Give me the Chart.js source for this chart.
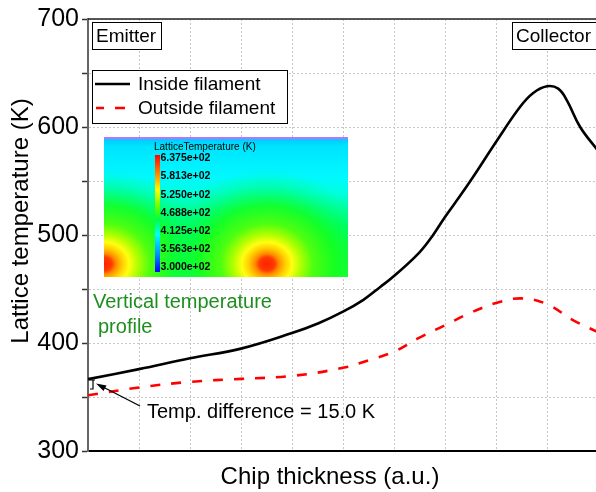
<!DOCTYPE html>
<html>
<head>
<meta charset="utf-8">
<script src="https://cdn.jsdelivr.net/npm/chart.js@4"></script>
<style>
  html, body { margin: 0; padding: 0; background: #fff; overflow: hidden; }
  #wrap { width: 596px; height: 492px; overflow: hidden; }
</style>
</head>
<body>
<div id="wrap"><canvas id="tempChart" width="600" height="492"></canvas></div>
<script>
const FONT = '"Liberation Sans", Arial, sans-serif';

// chip thickness (a.u., one grid step = 1) vs lattice temperature (K)
const insideX = [0, 1, 2, 3, 4, 4.52, 5, 5.4, 5.73, 6, 6.5, 6.77, 7, 7.29, 7.55, 8, 8.47, 8.73, 9, 9.22, 9.39, 9.65, 10];
const insideT = [366.5, 375.8, 385.8, 394.8, 409.2, 418.3, 429, 440, 451.9, 462, 484, 500.3, 516.7, 535.8, 553.7, 586.1, 618.5, 631.5, 637.7, 635.5, 624.7, 600, 578];
const outsideX = [0, 1, 2, 3, 4, 5, 5.5, 6, 6.5, 7, 7.5, 8, 8.5, 9, 9.5, 10];
const outsideT = [351.6, 358.8, 364, 366.8, 369.5, 377, 384, 392, 405, 416.4, 428, 437, 441.3, 436, 421.5, 410];
const yTickValues = [300, 350, 400, 450, 500, 550, 600, 650, 700];
const colorbarLabels = ['6.375e+02', '5.813e+02', '5.250e+02', '4.688e+02', '4.125e+02', '3.563e+02', '3.000e+02'];

const toPoints = (xs, ys) => xs.map((x, i) => ({ x: x, y: ys[i] }));

// inset, legend, labels and annotation
const decorations = {
    id: 'decorations',
    beforeDatasetsDraw(chart) {
        const ctx = chart.ctx;
        // contour-plot inset
        const L = 104, T = 137, W = 244, H = 140;
        ctx.save();
        ctx.beginPath();
        ctx.rect(L, T, W, H);
        ctx.clip();
        const base = ctx.createLinearGradient(0, T, 0, T + H);
        base.addColorStop(0, '#00c4ff');
        base.addColorStop(0.07, '#00e4ff');
        base.addColorStop(0.28, '#00f8ff');
        base.addColorStop(0.4, '#00ffe0');
        base.addColorStop(0.52, '#00ffa0');
        base.addColorStop(0.65, '#00ff60');
        base.addColorStop(0.8, '#14ff36');
        base.addColorStop(1, '#24ff24');
        ctx.fillStyle = base;
        ctx.fillRect(L, T, W, H);
        [[104, 264], [267, 264]].forEach(([cx, cy]) => {
            ctx.save();
            ctx.translate(cx, cy);
            ctx.scale(1.15, 1);
            const g = ctx.createRadialGradient(0, 0, 0, 0, 0, 95);
            g.addColorStop(0, '#ff2000');
            g.addColorStop(0.07, '#ff3a00');
            g.addColorStop(0.11, '#ff8c00');
            g.addColorStop(0.17, '#ffd000');
            g.addColorStop(0.23, '#ffff10');
            g.addColorStop(0.31, '#b0ff00');
            g.addColorStop(0.42, '#50ff10');
            g.addColorStop(0.62, 'rgba(20,255,30,0.85)');
            g.addColorStop(0.82, 'rgba(0,255,80,0.35)');
            g.addColorStop(1, 'rgba(0,255,140,0)');
            ctx.fillStyle = g;
            ctx.beginPath();
            ctx.arc(0, 0, 95, 0, Math.PI * 2);
            ctx.fill();
            ctx.restore();
        });
        ctx.fillStyle = '#c070ff';
        ctx.fillRect(L, T, W, 2);
        // colour bar
        const cb = ctx.createLinearGradient(0, 155, 0, 272);
        cb.addColorStop(0, '#ff0000');
        cb.addColorStop(0.15, '#ff8000');
        cb.addColorStop(0.3, '#ffff00');
        cb.addColorStop(0.45, '#60ff00');
        cb.addColorStop(0.55, '#00ff40');
        cb.addColorStop(0.68, '#00ffff');
        cb.addColorStop(0.85, '#0090ff');
        cb.addColorStop(1, '#0000ff');
        ctx.fillStyle = cb;
        ctx.fillRect(155, 155, 5, 117);
        ctx.fillStyle = '#000';
        ctx.textBaseline = 'middle';
        ctx.textAlign = 'left';
        ctx.font = '10px ' + FONT;
        ctx.fillText('LatticeTemperature (K)', 154, 147);
        ctx.font = 'bold 10.5px ' + FONT;
        colorbarLabels.forEach((s, i) => ctx.fillText(s, 160.5, 158.5 + i * 18.1));
        ctx.restore();
    },
    afterDraw(chart) {
        const ctx = chart.ctx;
        const area = chart.chartArea;
        ctx.save();
        // top frame line
        ctx.strokeStyle = '#222';
        ctx.lineWidth = 1.5;
        ctx.beginPath();
        ctx.moveTo(area.left, area.top);
        ctx.lineTo(area.right + 2, area.top);
        ctx.stroke();

        ctx.lineWidth = 1;
        ctx.strokeStyle = '#000';
        ctx.fillStyle = '#000';
        ctx.textAlign = 'left';
        ctx.textBaseline = 'middle';

        // Emitter / Collector boxes
        ctx.font = '19px ' + FONT;
        [['Emitter', 92.5, 69], ['Collector', 512.5, 100]].forEach(([s, x, w]) => {
            ctx.fillStyle = '#fff';
            ctx.fillRect(x, 22.5, w, 27);
            ctx.strokeRect(x, 22.5, w, 27);
            ctx.fillStyle = '#000';
            ctx.fillText(s, x + 3.5, 36.5);
        });

        // legend
        ctx.fillStyle = '#fff';
        ctx.fillRect(92.5, 70.5, 195, 53);
        ctx.strokeRect(92.5, 70.5, 195, 53);
        ctx.lineWidth = 2.5;
        ctx.strokeStyle = '#000';
        ctx.beginPath();
        ctx.moveTo(95, 84);
        ctx.lineTo(130, 84);
        ctx.stroke();
        ctx.strokeStyle = '#ff0000';
        ctx.beginPath();
        ctx.moveTo(96, 108);
        ctx.lineTo(104, 108);
        ctx.moveTo(115, 108);
        ctx.lineTo(125, 108);
        ctx.stroke();
        ctx.fillStyle = '#000';
        ctx.fillText('Inside filament', 138, 85);
        ctx.fillText('Outside filament', 138, 109);

        // green note
        ctx.textBaseline = 'alphabetic';
        ctx.font = '20px ' + FONT;
        ctx.fillStyle = '#1e8f1e';
        ctx.fillText('Vertical temperature', 93, 308);
        ctx.fillText('profile', 98, 333);

        // temperature difference annotation
        ctx.fillStyle = '#000';
        ctx.fillText('Temp. difference = 15.0 K', 147, 418);
        ctx.lineWidth = 1.3;
        ctx.strokeStyle = '#000';
        ctx.beginPath();
        ctx.moveTo(140, 406);
        ctx.lineTo(103, 387);
        ctx.stroke();
        ctx.beginPath();
        ctx.moveTo(96, 383.5);
        ctx.lineTo(106.5, 385.5);
        ctx.lineTo(103.5, 391);
        ctx.closePath();
        ctx.fill();
        ctx.lineWidth = 1.2;
        ctx.beginPath();
        ctx.moveTo(89, 380);
        ctx.lineTo(95, 380);
        ctx.moveTo(93, 380);
        ctx.lineTo(93, 389);
        ctx.lineTo(90, 389);
        ctx.stroke();

        // axis titles
        ctx.font = '24px ' + FONT;
        ctx.textAlign = 'center';
        ctx.fillText('Chip thickness (a.u.)', 330, 484);
        ctx.translate(28, 221);
        ctx.rotate(-Math.PI / 2);
        ctx.fillText('Lattice temperature (K)', 0, 0);
        ctx.restore();
    }
};

new Chart(document.getElementById('tempChart').getContext('2d'), {
    type: 'line',
    data: {
        datasets: [
            {
                label: 'Inside filament',
                data: toPoints(insideX, insideT),
                borderColor: '#000',
                borderWidth: 2.6,
                pointRadius: 0,
                tension: 0.4
            },
            {
                label: 'Outside filament',
                data: toPoints(outsideX, outsideT),
                borderColor: '#ff0000',
                borderWidth: 2.6,
                borderDash: [10, 11],
                pointRadius: 0,
                tension: 0.4
            }
        ]
    },
    options: {
        responsive: false,
        animation: false,
        layout: { padding: { top: 19, right: 2, left: 0, bottom: 0 } },
        plugins: {
            legend: { display: false },
            tooltip: { enabled: false }
        },
        scales: {
            x: {
                type: 'linear',
                min: 0,
                max: 10,
                ticks: { display: false, stepSize: 1 },
                grid: { color: '#c8c8c8', drawTicks: false },
                border: { color: '#000', width: 2, dash: [2, 2] },
                afterFit: (s) => { s.height = 41; }
            },
            y: {
                min: 300,
                max: 700,
                afterBuildTicks: (s) => { s.ticks = yTickValues.map(v => ({ value: v })); },
                ticks: {
                    color: '#000',
                    padding: 3,
                    font: { family: FONT, size: 25 },
                    callback: (v) => (v % 100 === 0 ? v : '')
                },
                grid: {
                    color: '#c8c8c8',
                    tickLength: 6,
                    tickColor: '#333',
                    tickWidth: 1.5
                },
                border: { color: '#666', width: 2, dash: [2, 2] },
                afterFit: (s) => { s.width = 88; }
            }
        }
    },
    plugins: [decorations]
});
</script>
</body>
</html>
